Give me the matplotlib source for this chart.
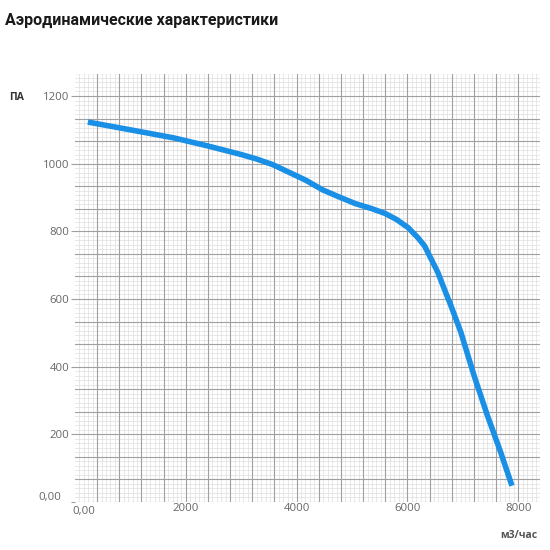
import matplotlib
matplotlib.use("Agg")
import matplotlib.pyplot as plt
import matplotlib.transforms as mtransforms
import numpy as np

# Data
flow = [232, 1000, 1786, 2380, 2977, 3273, 3571, 3869, 4166, 4464, 4762,
        5059, 5357, 5595, 5804, 6012, 6190, 6309, 6429, 6548, 6667, 6786,
        6964, 7202, 7441, 7679, 7887]
pressure = [1123, 1100, 1076, 1053, 1028, 1014, 997, 974, 951, 923, 902,
            882, 867, 853, 835, 811, 781, 757, 718, 679, 629, 580,
            502, 374, 257, 149, 48]
x_ticks = [0, 2000, 4000, 6000, 8000]
x_labels = ["0,00", "2000", "4000", "6000", "8000"]
y_ticks = [0, 200, 400, 600, 800, 1000, 1200]
y_labels = ["0,00", "200", "400", "600", "800", "1000", "1200"]

title = "Аэродинамические характеристики"
y_unit = "ПА"
x_unit = "м3/час"

fig = plt.figure(figsize=(5.5, 5.5), dpi=100)
ax = fig.add_axes([75/550, 1-502/550, 465/550, 428/550])

ax.set_xlim(89, 8393)
ax.set_ylim(6, 1265)

# grid
for xv in np.arange(80, 8400, 80):
    major = abs(xv / 400 - round(xv / 400)) < 1e-6
    ax.axvline(xv, color="#a0a0a0" if major else "#dedede",
               lw=0.8 if major else 0.5, zorder=1 if major else 0)
for yv in np.arange(0, 1270, 200/15):
    major = abs(yv / (200/3) - round(yv / (200/3))) < 1e-6
    ax.axhline(yv, color="#a0a0a0" if major else "#dedede",
               lw=0.8 if major else 0.5, zorder=1 if major else 0)

ax.plot(flow, pressure, color="#1a8fe6", lw=4.0, solid_capstyle="butt",
        solid_joinstyle="round", zorder=3)

for s in ax.spines.values():
    s.set_visible(False)

ax.set_xticks(x_ticks)
ax.set_xticklabels(x_labels)
ax.set_yticks(y_ticks)
ax.set_yticklabels(y_labels)
ax.tick_params(axis="x", length=0, labelcolor="#666666", labelsize=8.2, pad=1)
ax.tick_params(axis="y", length=3, width=0.8, color="#a0a0a0",
               labelcolor="#666666", labelsize=8.2, pad=1)
for lab in ax.get_xticklabels() + ax.get_yticklabels():
    lab.set_family("Open Sans")

# offsets for the first labels as in the reference
xl0 = ax.get_xticklabels()[0]
xl0.set_transform(xl0.get_transform() + mtransforms.ScaledTranslation(9/100, -3/100, fig.dpi_scale_trans))
yl0 = ax.get_yticklabels()[0]
yl0.set_transform(yl0.get_transform() + mtransforms.ScaledTranslation(-8/100, 6/100, fig.dpi_scale_trans))

fig.text(5/550, 1-20/550, title, fontsize=11.5, fontweight="bold",
         family="Roboto", color="#1a1a1a", va="center", ha="left")
fig.text(17/550, 1-98/550, y_unit, fontsize=7.5, fontweight="bold",
         family="Open Sans", color="#333333", va="center", ha="center")
fig.text(519/550, 1-535/550, x_unit, fontsize=7.5, fontweight="bold",
         family="Open Sans", color="#555555", va="center", ha="center")

fig.savefig("out.png", dpi=100, facecolor="white")
